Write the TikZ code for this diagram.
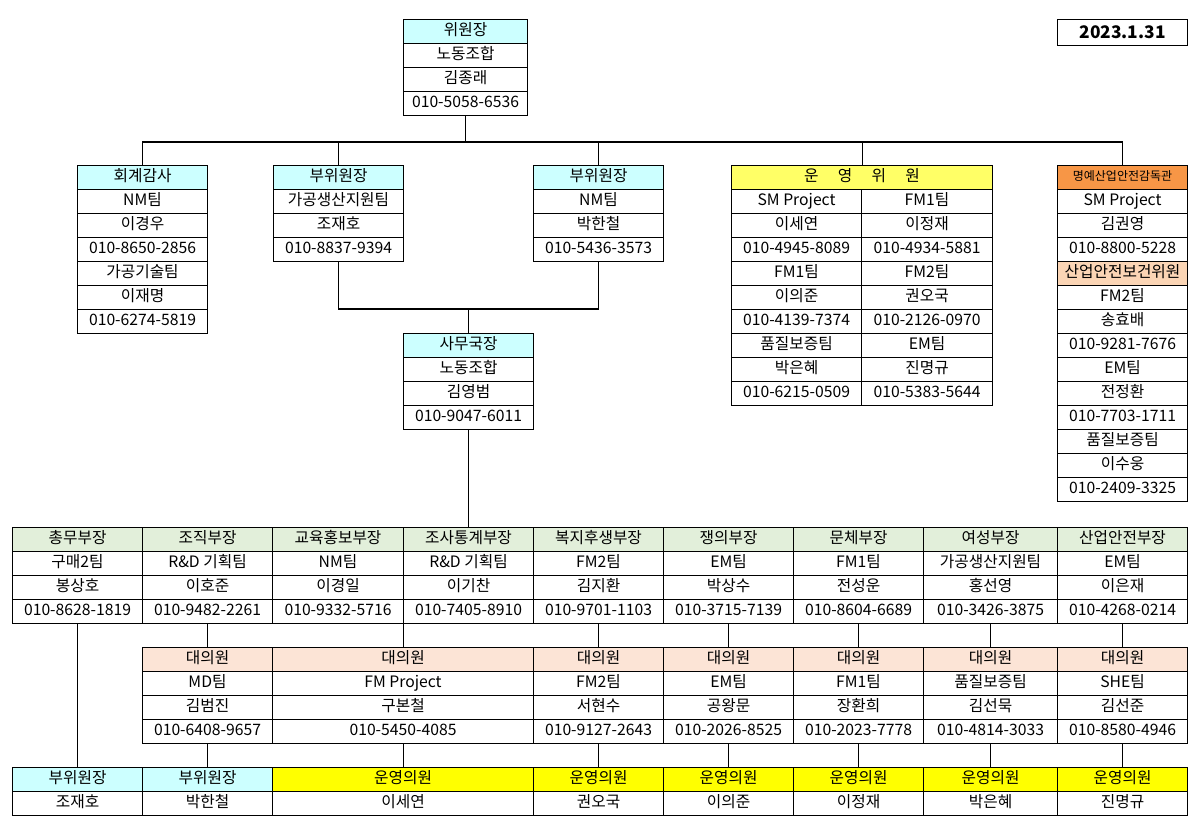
\documentclass[tikz,border=0pt]{standalone}
\usepackage{fontspec}
\setmainfont{Noto Sans CJK KR}
\definecolor{cyanh}{HTML}{CCFFFF}
\definecolor{yelh}{HTML}{FFFF66}
\definecolor{yelb}{HTML}{FFFF00}
\definecolor{greenh}{HTML}{E2EFDA}
\definecolor{peach}{HTML}{FCE4D6}
\definecolor{orangeh}{HTML}{F79646}
\definecolor{lorange}{HTML}{FBD5B5}
\tikzset{cell/.style={draw=black,line width=0.8pt,inner sep=0pt,anchor=north west,minimum height=18pt,font=\fontsize{11.8}{13}\selectfont},
 conn/.style={line width=0.8pt}}
\newcommand\rowsx[5]{\foreach \txt [count=\i] in {#5}{\node[cell,minimum width=#4*0.75pt] (#1-\i) at (#2,{#3+24*(\i-1)}) {\strut\txt};}}
\newcommand\stackx[6]{\node[cell,fill=#5,minimum width=#4*0.75pt] (#1-0) at (#2,#3) {\strut #6};}
\begin{document}
\begin{tikzpicture}[x=0.75pt,y=-0.75pt]
\useasboundingbox (0,0) rectangle (1200,828);
\node[cell,minimum width=130*0.75pt,minimum height=26*0.75pt,font=\fontsize{13}{15}\selectfont\bfseries] (date) at (1057,19) {2023.1.31};
% top
\stackx{top}{403}{19}{124}{cyanh}{위원장}
\rowsx{top}{403}{43}{124}{노동조합,김종래,010-5058-6536}
% audit
\stackx{aud}{77}{165}{130}{cyanh}{회계감사}
\rowsx{aud}{77}{189}{130}{NM팀,이경우,010-8650-2856,가공기술팀,이재명,010-6274-5819}
\stackx{vpl}{273}{165}{130}{cyanh}{부위원장}
\rowsx{vpl}{273}{189}{130}{가공생산지원팀,조재호,010-8837-9394}
\stackx{vpr}{533}{165}{130}{cyanh}{부위원장}
\rowsx{vpr}{533}{189}{130}{NM팀,박한철,010-5436-3573}
\stackx{op}{731}{165}{261}{yelh}{운\quad\ 영\quad\ 위\quad\ 원}
\rowsx{opl}{731}{189}{130}{SM Project,이세연,010-4945-8089,FM1팀,이의준,010-4139-7374,품질보증팀,박은혜,010-6215-0509}
\rowsx{opr}{861}{189}{131}{FM1팀,이정재,010-4934-5881,FM2팀,권오국,010-2126-0970,EM팀,진명규,010-5383-5644}
\node[cell,fill=orangeh,minimum width=130*0.75pt,font=\fontsize{9}{11}\selectfont] (hon-0) at (1057,165) {\strut 명예산업안전감독관};
\rowsx{hon}{1057}{189}{130}{SM Project,김권영,010-8800-5228}
\stackx{saf}{1057}{261}{130}{lorange}{산업안전보건위원}
\rowsx{saf}{1057}{285}{130}{FM2팀,송효배,010-9281-7676,EM팀,전정환,010-7703-1711,품질보증팀,이수웅,010-2409-3325}
% secretary
\stackx{sec}{403}{333}{130}{cyanh}{사무국장}
\rowsx{sec}{403}{357}{130}{노동조합,김영범,010-9047-6011}
% departments
\stackx{d1}{12}{527}{130}{greenh}{총무부장}\rowsx{d1}{12}{551}{130}{구매2팀,봉상호,010-8628-1819}
\stackx{d2}{142}{527}{130}{greenh}{조직부장}\rowsx{d2}{142}{551}{130}{R\&D 기획팀,이호준,010-9482-2261}
\stackx{d3}{272}{527}{131}{greenh}{교육홍보부장}\rowsx{d3}{272}{551}{131}{NM팀,이경일,010-9332-5716}
\stackx{d4}{403}{527}{130}{greenh}{조사통계부장}\rowsx{d4}{403}{551}{130}{R\&D 기획팀,이기찬,010-7405-8910}
\stackx{d5}{533}{527}{130}{greenh}{복지후생부장}\rowsx{d5}{533}{551}{130}{FM2팀,김지환,010-9701-1103}
\stackx{d6}{663}{527}{130}{greenh}{쟁의부장}\rowsx{d6}{663}{551}{130}{EM팀,박상수,010-3715-7139}
\stackx{d7}{793}{527}{130}{greenh}{문체부장}\rowsx{d7}{793}{551}{130}{FM1팀,전성운,010-8604-6689}
\stackx{d8}{923}{527}{134}{greenh}{여성부장}\rowsx{d8}{923}{551}{134}{가공생산지원팀,홍선영,010-3426-3875}
\stackx{d9}{1057}{527}{130}{greenh}{산업안전부장}\rowsx{d9}{1057}{551}{130}{EM팀,이은재,010-4268-0214}
% delegates
\stackx{r1}{142}{647}{130}{peach}{대의원}\rowsx{r1}{142}{671}{130}{MD팀,김범진,010-6408-9657}
\stackx{r2}{272}{647}{261}{peach}{대의원}\rowsx{r2}{272}{671}{261}{FM Project,구본철,010-5450-4085}
\stackx{r3}{533}{647}{130}{peach}{대의원}\rowsx{r3}{533}{671}{130}{FM2팀,서현수,010-9127-2643}
\stackx{r4}{663}{647}{130}{peach}{대의원}\rowsx{r4}{663}{671}{130}{EM팀,공왕문,010-2026-8525}
\stackx{r5}{793}{647}{130}{peach}{대의원}\rowsx{r5}{793}{671}{130}{FM1팀,장환희,010-2023-7778}
\stackx{r6}{923}{647}{134}{peach}{대의원}\rowsx{r6}{923}{671}{134}{품질보증팀,김선묵,010-4814-3033}
\stackx{r7}{1057}{647}{130}{peach}{대의원}\rowsx{r7}{1057}{671}{130}{SHE팀,김선준,010-8580-4946}
% bottom
\stackx{b1}{12}{767}{130}{cyanh}{부위원장}\rowsx{b1}{12}{791}{130}{조재호}
\stackx{b2}{142}{767}{130}{cyanh}{부위원장}\rowsx{b2}{142}{791}{130}{박한철}
\stackx{b3}{272}{767}{261}{yelb}{운영의원}\rowsx{b3}{272}{791}{261}{이세연}
\stackx{b4}{533}{767}{130}{yelb}{운영의원}\rowsx{b4}{533}{791}{130}{권오국}
\stackx{b5}{663}{767}{130}{yelb}{운영의원}\rowsx{b5}{663}{791}{130}{이의준}
\stackx{b6}{793}{767}{130}{yelb}{운영의원}\rowsx{b6}{793}{791}{130}{이정재}
\stackx{b7}{923}{767}{134}{yelb}{운영의원}\rowsx{b7}{923}{791}{134}{박은혜}
\stackx{b8}{1057}{767}{130}{yelb}{운영의원}\rowsx{b8}{1057}{791}{130}{진명규}
% connectors
\coordinate (j1) at (465,142);
\draw[conn] (top-3.south) -- (top-3.south |- j1);
\draw[conn] (aud-0.north) -- (aud-0.north |- j1) -| (hon-0.north);
\draw[conn] (vpl-0.north) -- (vpl-0.north |- j1);
\draw[conn] (vpr-0.north) -- (vpr-0.north |- j1);
\draw[conn] (op-0.north) -- (op-0.north |- j1);
\coordinate (j2) at (468,309);
\draw[conn] (vpl-3.south) -- (vpl-3.south |- j2) -| (vpr-3.south);
\draw[conn] (sec-0.north) -- (sec-0.north |- j2);
\draw[conn] (sec-3.south) -- (d4-0.north -| sec-3.south);
\draw[conn] (d1-3.south) -- (b1-0.north);
\draw[conn] (d2-3.south) -- (r1-0.north);
\draw[conn] (r2-0.north) -- (r2-0.north |- d3-3.south);
\foreach \a/\b in {d5/r3,d6/r4,d7/r5,d8/r6,d9/r7}{\draw[conn] (\a-3.south) -- (\b-0.north);}
\foreach \a/\b in {r1/b2,r2/b3,r3/b4,r4/b5,r5/b6,r6/b7,r7/b8}{\draw[conn] (\a-3.south) -- (\b-0.north);}
\end{tikzpicture}
\end{document}
